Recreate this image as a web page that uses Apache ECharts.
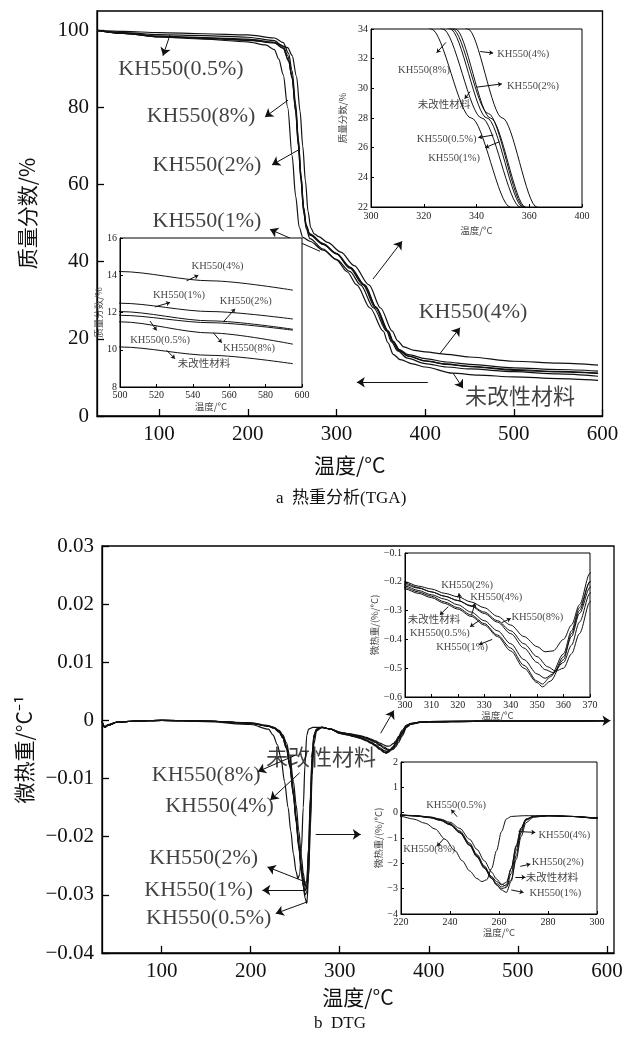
<!DOCTYPE html>
<html>
<head>
<meta charset="utf-8">
<script src="https://cdn.jsdelivr.net/npm/echarts@6/dist/echarts.min.js"></script>
<style>
html,body{margin:0;padding:0;background:#fff}
#c{width:633px;height:1044px}
</style>
</head>
<body>
<div id="c"></div>
<script>
// ---------- TGA: mass fraction (%) vs temperature (°C) ----------
const tgaUnmodified = [[30,100],[60,99.4],[100,98.9],[150,98.6],[200,98.2],[230,97.3],[240,95.8],[245,93.5],[250,88],[254,79],[257,70.5],[260,61.5],[263,53],[266,48.5],[270,46],[285,43.3],[300,40.5],[312,37.4],[322.8,34],[338,28],[352.8,22],[358,19],[364,16],[372,14.6],[386,13.5],[400,12.7],[431,11.1],[460,10.6],[500,10.15],[550,9.7],[595,9.25]];
const tgaKH05 = [[30,100],[60,99.7],[100,99.4],[150,99.1],[200,98.8],[230,98],[240,96.8],[246,94],[250,89.5],[254,81],[257,72],[260,62.5],[263,54],[266,49.5],[270,47],[285,44.5],[300,42],[315,38.3],[330,34],[344,28],[357.6,22],[363,19.3],[370,17],[380,15.6],[400,14.3],[424,13.4],[450,12.8],[500,11.85],[550,11.45],[595,11.05]];
const tgaKH1 = [[30,100],[60,99.3],[100,98.5],[150,98.1],[200,97.7],[230,96.9],[240,95.4],[246,92],[250,87.5],[254,79],[257,70],[260,61],[263,53],[266,49],[270,47.2],[285,44.7],[300,42.2],[315,38.6],[330.9,34],[344.5,28.3],[358.1,22],[364,19.3],[371,17.2],[381,15.9],[400,14.9],[424,14.0],[450,13.4],[500,12.5],[550,12.05],[595,11.65]];
const tgaKH2 = [[30,100],[60,99.2],[100,98.4],[150,98],[200,97.5],[230,96.7],[240,95.3],[246,92.2],[250,88],[254,80],[257,71.5],[260,62.5],[263,54],[266,49.3],[270,46.9],[285,44.5],[300,42.1],[316,38.5],[332,34],[345.3,28],[358.6,22],[364,19.4],[371,17.1],[381,15.5],[400,14.3],[424,13.5],[450,12.9],[500,12.05],[550,11.55],[595,11.1]];
const tgaKH4 = [[30,100],[60,99.2],[100,98.3],[150,97.9],[200,97.4],[230,96.8],[245,95.5],[250,93.5],[255,88],[259,79],[262,70],[265,61],[268,53],[271,48.8],[275,47.2],[280,46.5],[290,45],[305,42.5],[320,39],[336.7,34],[349.8,28],[362.9,22],[369,19.5],[376,17.9],[388,17],[400,16.6],[424,16.0],[450,15.3],[500,14.2],[550,13.7],[595,13.2]];
const tgaKH8 = [[30,100],[60,99.2],[100,98.3],[150,97.7],[200,97],[220,96.2],[230,95],[235,92.5],[240,88.5],[245,80],[250,67.5],[254,57],[258,49],[262,46.3],[270,45.3],[285,43],[300,40.6],[315,37.5],[327.2,34],[342,28],[356.6,22],[362,19.2],[369,16.9],[380,15],[400,13.6],[424,12.7],[450,12.2],[500,11.5],[550,10.9],[595,10.3]];

// ---------- DTG: derivative mass loss (%/°C) vs temperature (°C) ----------
const dtgUnmodified = [[33,-0.02],[36,-0.12],[40,-0.08],[50,-0.03],[70,-0.01],[100,0],[150,-0.01],[200,-0.05],[220,-0.1],[226,-0.13],[232,-0.2],[236,-0.3],[240,-0.48],[244,-0.8],[248,-1.3],[251,-1.75],[254,-2.2],[257,-2.6],[259,-2.8],[261,-2.93],[263,-2.85],[265,-2.2],[267,-1.3],[269,-0.6],[271,-0.25],[274,-0.15],[280,-0.12],[290,-0.15],[300,-0.215],[305,-0.23],[310,-0.245],[315,-0.26],[320,-0.28],[325,-0.305],[330,-0.335],[335,-0.37],[340,-0.415],[345,-0.47],[350,-0.52],[353,-0.535],[356,-0.52],[360,-0.46],[363,-0.39],[366,-0.31],[370,-0.22],[375,-0.1],[380,-0.06],[390,-0.035],[400,-0.025],[450,-0.015],[500,-0.01],[550,-0.008],[600,-0.005]];
const dtgKH05 = [[33,-0.02],[36,-0.1],[40,-0.07],[50,-0.03],[70,-0.01],[100,0],[150,-0.01],[200,-0.04],[220,-0.09],[226,-0.12],[232,-0.18],[236,-0.27],[240,-0.43],[244,-0.72],[248,-1.2],[251,-1.65],[254,-2.1],[257,-2.55],[259,-2.85],[261,-3.05],[263,-3.15],[265,-2.7],[267,-1.7],[269,-0.8],[271,-0.3],[274,-0.16],[280,-0.12],[290,-0.15],[300,-0.22],[305,-0.235],[310,-0.25],[315,-0.27],[320,-0.29],[325,-0.315],[330,-0.345],[335,-0.385],[340,-0.43],[345,-0.49],[350,-0.545],[352,-0.555],[355,-0.53],[360,-0.45],[363,-0.37],[366,-0.29],[370,-0.2],[375,-0.09],[380,-0.055],[390,-0.03],[400,-0.02],[450,-0.012],[500,-0.01],[550,-0.008],[600,-0.005]];
const dtgKH1 = [[33,-0.02],[36,-0.11],[40,-0.08],[50,-0.03],[70,-0.01],[100,0],[150,-0.01],[200,-0.05],[220,-0.1],[226,-0.13],[232,-0.19],[236,-0.28],[240,-0.45],[244,-0.76],[248,-1.25],[251,-1.7],[254,-2.15],[257,-2.6],[259,-2.85],[261,-3.0],[263,-2.95],[265,-2.4],[267,-1.5],[269,-0.7],[271,-0.28],[274,-0.16],[280,-0.12],[290,-0.15],[300,-0.225],[305,-0.24],[310,-0.255],[315,-0.275],[320,-0.295],[325,-0.32],[330,-0.35],[335,-0.39],[340,-0.44],[345,-0.5],[350,-0.55],[352,-0.565],[355,-0.545],[360,-0.47],[363,-0.38],[366,-0.3],[370,-0.2],[375,-0.09],[380,-0.055],[390,-0.03],[400,-0.02],[450,-0.012],[500,-0.01],[550,-0.008],[600,-0.005]];
const dtgKH2 = [[33,-0.02],[36,-0.12],[40,-0.08],[50,-0.03],[70,-0.01],[100,0],[150,-0.01],[200,-0.05],[220,-0.1],[226,-0.13],[232,-0.2],[236,-0.3],[240,-0.47],[244,-0.78],[248,-1.28],[251,-1.72],[254,-2.15],[257,-2.52],[259,-2.72],[261,-2.85],[263,-2.75],[265,-2.2],[267,-1.35],[269,-0.62],[271,-0.26],[274,-0.15],[280,-0.12],[290,-0.15],[300,-0.205],[305,-0.22],[310,-0.235],[315,-0.25],[320,-0.265],[325,-0.285],[330,-0.31],[335,-0.34],[340,-0.38],[345,-0.43],[350,-0.48],[353,-0.505],[356,-0.515],[360,-0.48],[363,-0.42],[366,-0.34],[370,-0.24],[375,-0.11],[380,-0.06],[390,-0.035],[400,-0.025],[450,-0.015],[500,-0.01],[550,-0.008],[600,-0.005]];
const dtgKH4 = [[33,-0.02],[36,-0.11],[40,-0.08],[50,-0.03],[70,-0.01],[100,0],[150,-0.01],[200,-0.05],[220,-0.1],[226,-0.12],[232,-0.17],[236,-0.25],[240,-0.38],[244,-0.62],[248,-1.05],[251,-1.45],[254,-1.9],[257,-2.35],[259,-2.62],[261,-2.82],[263,-2.9],[265,-2.65],[267,-1.85],[269,-0.95],[271,-0.4],[274,-0.18],[280,-0.12],[290,-0.15],[300,-0.21],[305,-0.222],[310,-0.235],[315,-0.25],[320,-0.265],[325,-0.283],[330,-0.305],[335,-0.335],[340,-0.37],[345,-0.415],[350,-0.46],[354,-0.495],[357,-0.51],[360,-0.5],[363,-0.45],[366,-0.38],[370,-0.27],[375,-0.12],[380,-0.065],[390,-0.035],[400,-0.025],[450,-0.015],[500,-0.01],[550,-0.008],[600,-0.005]];
const dtgKH8 = [[33,-0.02],[36,-0.12],[40,-0.08],[50,-0.03],[70,-0.01],[100,0],[150,-0.02],[200,-0.07],[220,-0.15],[225,-0.25],[230,-0.42],[234,-0.65],[238,-1.05],[242,-1.5],[245,-1.9],[248,-2.3],[251,-2.6],[253,-2.72],[255,-2.65],[257,-2.2],[259,-1.5],[261,-0.75],[263,-0.25],[265,-0.15],[270,-0.12],[280,-0.12],[290,-0.15],[300,-0.2],[305,-0.215],[310,-0.225],[315,-0.24],[320,-0.252],[325,-0.27],[330,-0.29],[335,-0.32],[340,-0.35],[345,-0.39],[350,-0.425],[353,-0.443],[356,-0.44],[360,-0.4],[363,-0.35],[366,-0.28],[370,-0.17],[375,-0.08],[380,-0.05],[390,-0.03],[400,-0.02],[450,-0.012],[500,-0.01],[550,-0.008],[600,-0.005]];

// ---------- tick labels ----------
const tempTicks = [100, 200, 300, 400, 500, 600];
const massTicks = [0, 20, 40, 60, 80, 100];
const dtgTicks = [-0.04, -0.03, -0.02, -0.01, 0, 0.01, 0.02, 0.03];
const tgaZoomTempTicks = [300, 320, 340, 360, 380];
const tgaZoomTempText = ['300', '320', '340', '360', '400'];

// ---------- annotations: [text, temperature, value] ----------
const tgaNotes = [['KH550(0.5%)',124.7,89.8],['KH550(8%)',147.3,77.7],['KH550(2%)',154,65.1],['KH550(1%)',154,50.4],['KH550(4%)',454,26.8],['未改性材料',507,4.6]];
const tgaArrows = [[[112.3,98.8],[104.4,93.4]],[[245.4,81.9],[219.4,77.5]],[[258.9,69.2],[227.3,65.1]],[[281.5,42.7],[225,48.4]],[[416.8,16.2],[439.3,22.9]],[[431.5,11.1],[442.7,7.2]],[[403,8.75],[323,8.75]],[[341.2,35.5],[374,45.3]]];
const tgaZoomANotes = [['KH550(4%)',357.7,32.33],['KH550(8%)',320.1,31.2],['KH550(2%)',361.4,30.17],['未改性材料',327.7,28.83],['KH550(0.5%)',328.7,26.6],['KH550(1%)',331.5,25.27]];
const tgaZoomAArrows = [[[341.4,32.48],[346.3,32.38]],[[328.4,33.1],[324.9,32.4]],[[340.1,30.08],[349.6,30.3]],[[337.6,29.78],[335.5,29.3]],[[346.4,26.85],[340.7,26.68]],[[348.7,26.4],[343.3,26.0]]];
const tgaZoomBNotes = [['KH550(4%)',553.6,14.49],['KH550(1%)',532.4,12.9],['KH550(2%)',569.1,12.58],['KH550(0.5%)',522,10.5],['KH550(8%)',570.9,10.1],['未改性材料',546.2,9.23]];
const tgaZoomBArrows = [[[536.6,13.7],[543,14.0]],[[519.2,12.3],[527.5,12.54]],[[556.8,11.5],[563.2,12.2]],[[516.5,11.54],[520.1,11.04]],[[551.3,10.91],[555.9,10.38]],[[525.6,9.97],[530.2,9.52]]];

const dtgNotes = [['未改性材料',279,-0.0066],['KH550(8%)',150,-0.0095],['KH550(4%)',165,-0.0148],['KH550(2%)',147.2,-0.0237],['KH550(1%)',141.6,-0.0292],['KH550(0.5%)',152.8,-0.034]];
const dtgArrows = [[[250,-0.006],[208,-0.0088]],[[255,-0.009],[222,-0.0137]],[[261.8,-0.0278],[218.8,-0.0252]],[[261.8,-0.0292],[213.1,-0.0292]],[[263.7,-0.0312],[228.1,-0.0332]],[[273,-0.0196],[323.6,-0.0196]],[[346,-0.0022],[360.7,0.0017]],[[590,-0.00005],[604,-0.00005]]];
const dtgZoomCNotes = [['KH550(2%)',323.5,-0.2106],['KH550(4%)',334.5,-0.2535],['KH550(8%)',350.1,-0.323],['未改性材料',311,-0.333],['KH550(0.5%)',313.2,-0.379],['KH550(1%)',321.6,-0.428]];
const dtgZoomCArrows = [[[320.8,-0.265],[320.4,-0.24]],[[325.2,-0.315],[326.5,-0.274]],[[336.6,-0.342],[340,-0.327]],[[316.4,-0.286],[313.2,-0.315]],[[328.4,-0.333],[324.6,-0.356]],[[333,-0.4],[328,-0.418]]];
const dtgZoomDNotes = [['KH550(0.5%)',242.5,0.3],['KH550(8%)',231.5,-1.46],['KH550(4%)',286.7,-0.91],['KH550(2%)',284,-1.96],['未改性材料',281.6,-2.58],['KH550(1%)',283,-3.2]];
const dtgZoomDArrows = [[[242.9,-0.16],[240.5,0.12]],[[237.4,-1.03],[234.7,-1.33]],[[268,-0.745],[274.8,-0.78]],[[268.7,-2.12],[272.8,-2.03]],[[266.7,-2.55],[270.8,-2.55]],[[265,-3.05],[270,-3.15]]];

// ---------- drawing ----------
const SERIF = '"Liberation Serif","Times New Roman",serif';
const CJK = '"Noto Sans CJK SC","Liberation Serif",sans-serif';
const LABEL_FONT = '"Liberation Serif","Noto Sans CJK SC",serif';
const seriesSets = [
  ['未改性材料', tgaUnmodified, dtgUnmodified],
  ['KH550(0.5%)', tgaKH05, dtgKH05],
  ['KH550(1%)', tgaKH1, dtgKH1],
  ['KH550(2%)', tgaKH2, dtgKH2],
  ['KH550(4%)', tgaKH4, dtgKH4],
  ['KH550(8%)', tgaKH8, dtgKH8]
];

const grids = [
  {left: 97, top: 11, width: 505.5, height: 405, show: true, borderColor: '#000', borderWidth: 1.3},
  {left: 371, top: 29, width: 211, height: 178, show: true, borderColor: '#000', borderWidth: 1, backgroundColor: '#fff', z: 10},
  {left: 120, top: 238, width: 182, height: 149, show: true, borderColor: '#000', borderWidth: 1, backgroundColor: '#fff', z: 10},
  {left: 102, top: 546, width: 512, height: 407, show: true, borderColor: '#000', borderWidth: 1.3},
  {left: 405, top: 553, width: 185, height: 144, show: true, borderColor: '#000', borderWidth: 1, backgroundColor: '#fff', z: 10},
  {left: 401, top: 762, width: 196, height: 152, show: true, borderColor: '#000', borderWidth: 1, backgroundColor: '#fff', z: 10}
];

function minusFmt(v, digits) {
  if (Math.abs(v) < 1e-9) return '0';
  return (v < 0 ? '\u2212' : '') + Math.abs(v).toFixed(digits);
}

function mainAxis(gridIndex, opts) {
  return Object.assign({
    gridIndex: gridIndex,
    type: 'value',
    axisLine: {show: true, onZero: false, lineStyle: {color: '#000', width: 1.3}},
    axisTick: {show: true, inside: true, length: 7, lineStyle: {color: '#000', width: 1.3}},
    axisLabel: {color: '#111', fontSize: 21, fontFamily: SERIF, margin: 8},
    splitLine: {show: false},
    nameLocation: 'middle',
    nameTextStyle: {color: '#111', fontSize: 21, fontFamily: CJK}
  }, opts);
}

function insetAxis(gridIndex, opts) {
  return Object.assign({
    gridIndex: gridIndex,
    type: 'value',
    z: 11,
    axisLine: {show: true, onZero: false, lineStyle: {color: '#000', width: 1}},
    axisTick: {show: true, inside: true, length: 3, lineStyle: {color: '#000'}},
    axisLabel: {color: '#222', fontSize: 10, fontFamily: SERIF, margin: 3},
    splitLine: {show: false},
    nameLocation: 'middle',
    nameTextStyle: {color: '#444', fontSize: 9.5, fontFamily: CJK}
  }, opts);
}

const xAxes = [
  mainAxis(0, {min: 30, max: 600, name: '温度/°C', nameGap: 39,
    axisLabel: {color: '#111', fontSize: 21, fontFamily: SERIF, margin: 8, customValues: tempTicks},
    axisTick: {show: true, inside: true, length: 7, lineStyle: {color: '#000', width: 1.3}, customValues: tempTicks}}),
  insetAxis(1, {min: 300, max: 380, name: '温度/°C', nameGap: 19,
    axisLabel: {color: '#222', fontSize: 10, fontFamily: SERIF, margin: 4, customValues: tgaZoomTempTicks,
      formatter: v => tgaZoomTempText[tgaZoomTempTicks.indexOf(Math.round(v))] || ''},
    axisTick: {show: true, inside: true, length: 3, customValues: tgaZoomTempTicks}}),
  insetAxis(2, {min: 500, max: 600, interval: 20, name: '温度/°C', nameGap: 15}),
  mainAxis(3, {min: 33, max: 608, name: '温度/°C', nameGap: 34,
    axisLabel: {color: '#111', fontSize: 21, fontFamily: SERIF, margin: 8, customValues: tempTicks},
    axisTick: {show: true, inside: true, length: 7, lineStyle: {color: '#000', width: 1.3}, customValues: tempTicks}}),
  insetAxis(4, {min: 300, max: 370, interval: 10, name: '温度/°C', nameGap: 11}),
  insetAxis(5, {min: 220, max: 300, interval: 20, name: '温度/°C', nameGap: 14})
];

const yAxes = [
  mainAxis(0, {min: 0, max: 105, name: '质量分数/%', nameGap: 59,
    axisLabel: {color: '#111', fontSize: 21, fontFamily: SERIF, margin: 8, customValues: massTicks},
    axisTick: {show: true, inside: true, length: 7, lineStyle: {color: '#000', width: 1.3}, customValues: massTicks}}),
  insetAxis(1, {min: 22, max: 34, interval: 2, name: '质量分数/%', nameGap: 24}),
  insetAxis(2, {min: 8, max: 16, interval: 2, name: '质量分数/%', nameGap: 14}),
  mainAxis(3, {min: -0.04, max: 0.03, name: '微热重/°C\u207B\u00B9', nameGap: 61,
    axisLabel: {color: '#111', fontSize: 21, fontFamily: SERIF, margin: 8, customValues: dtgTicks, formatter: v => minusFmt(v, 2)},
    axisTick: {show: true, inside: true, length: 7, lineStyle: {color: '#000', width: 1.3}, customValues: dtgTicks}}),
  insetAxis(4, {min: -0.6, max: -0.1, interval: 0.1, name: '微热重/(%/°C)', nameGap: 26,
    axisLabel: {color: '#222', fontSize: 10, fontFamily: SERIF, margin: 3, formatter: v => minusFmt(v, 1)}}),
  insetAxis(5, {min: -4, max: 2, interval: 1, name: '微热重/(%/°C)', nameGap: 14,
    axisLabel: {color: '#222', fontSize: 10, fontFamily: SERIF, margin: 3, formatter: v => minusFmt(v, 0)}})
];

const series = [];
function curve(idx, data, width, z) {
  return {type: 'line', xAxisIndex: idx, yAxisIndex: idx, data: data, showSymbol: false,
    smooth: 0.3, smoothMonotone: 'x', clip: true, z: z, silent: true,
    lineStyle: {color: '#111', width: width}};
}
function arrows(idx, list, size, z) {
  return {type: 'lines', coordinateSystem: 'cartesian2d', xAxisIndex: idx, yAxisIndex: idx,
    symbol: ['none', 'arrow'], symbolSize: size, z: z, silent: true,
    lineStyle: {color: '#111', width: 1, opacity: 1},
    data: list.map(p => ({coords: p}))};
}
function notes(idx, list, size, z) {
  return {type: 'scatter', xAxisIndex: idx, yAxisIndex: idx, symbolSize: 0, z: z, silent: true, clip: false,
    label: {show: true, position: 'inside', formatter: '{b}', color: '#111', fontSize: size, fontFamily: LABEL_FONT},
    data: list.map(n => ({name: n[0], value: [n[1], n[2]]}))};
}

seriesSets.forEach(([name, tga, dtg]) => {
  series.push(curve(0, tga, 1.2, 2));
  series.push(curve(1, tga, 1, 12));
  series.push(curve(2, tga, 1, 12));
  series.push(curve(3, dtg.map(p => [p[0], p[1] / 100]), 1.2, 2));
  series.push(curve(4, dtg, 1, 12));
  series.push(curve(5, dtg, 1, 12));
});

series.push(arrows(0, tgaArrows, 8, 3));
series.push(notes(0, tgaNotes, 22, 3));
series.push(arrows(1, tgaZoomAArrows, 4, 13));
series.push(notes(1, tgaZoomANotes, 10.5, 13));
series.push(arrows(2, tgaZoomBArrows, 4, 13));
series.push(notes(2, tgaZoomBNotes, 10.5, 13));
series.push(arrows(3, dtgArrows, 8, 3));
series.push(notes(3, dtgNotes, 22, 3));
series.push(arrows(4, dtgZoomCArrows, 4, 13));
series.push(notes(4, dtgZoomCNotes, 10.5, 13));
series.push(arrows(5, dtgZoomDArrows, 4, 13));
series.push(notes(5, dtgZoomDNotes, 10.5, 13));

const chart = echarts.init(document.getElementById('c'));
chart.setOption({
  backgroundColor: '#fff',
  animation: false,
  grid: grids,
  xAxis: xAxes,
  yAxis: yAxes,
  series: series,
  graphic: [
    {type: 'text', left: 276, top: 490, style: {text: 'a  热重分析(TGA)', fill: '#111', font: '17px "Liberation Serif","Noto Sans CJK SC",serif'}},
    {type: 'text', left: 314, top: 1015, style: {text: 'b  DTG', fill: '#111', font: '17px "Liberation Serif",serif'}}
  ]
});
</script>
</body>
</html>
